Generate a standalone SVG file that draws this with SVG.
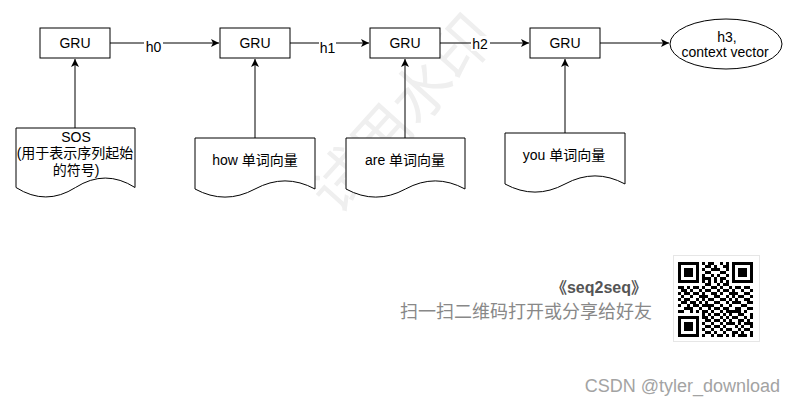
<svg xmlns="http://www.w3.org/2000/svg" width="796" height="405" viewBox="0 0 796 405">
<style>
text{font-family:"Liberation Sans","Noto Sans CJK SC",sans-serif;}
.t{font-size:14px;fill:#000;text-anchor:middle;}
.box{fill:#fff;stroke:#000;stroke-width:1;}
.ln{fill:none;stroke:#000;stroke-width:1;}
.lbl{fill:#fff;stroke:none;}
</style>
<defs>
<marker id="arr" markerUnits="userSpaceOnUse" markerWidth="10" markerHeight="10" refX="8" refY="4" orient="auto">
<path d="M0,0 L8,4 L0,8 L2,4 Z" fill="#000"/>
</marker>
</defs>
<rect width="796" height="405" fill="#fff"/>
<text x="402" y="135" transform="rotate(-48 402 114)" style="font-size:60px;fill:#efefef;text-anchor:middle;">试用水印</text>

<g id="connectors">
<path class="ln" d="M110,43 H219" marker-end="url(#arr)"/>
<path class="ln" d="M290,43 H369" marker-end="url(#arr)"/>
<path class="ln" d="M440,43 H529" marker-end="url(#arr)"/>
<path class="ln" d="M600,43 H669" marker-end="url(#arr)"/>
<path class="ln" d="M75,128 V59" marker-end="url(#arr)"/>
<path class="ln" d="M255,138 V59" marker-end="url(#arr)"/>
<path class="ln" d="M405,138 V59" marker-end="url(#arr)"/>
<path class="ln" d="M565,133 V59" marker-end="url(#arr)"/>
<rect class="lbl" x="144" y="38" width="19" height="16"/>
<text class="t" x="153.5" y="52">h0</text>
<rect class="lbl" x="319" y="40" width="17" height="15"/>
<text class="t" x="327.5" y="53">h1</text>
<rect class="lbl" x="471" y="36" width="19" height="15"/>
<text class="t" x="480" y="49">h2</text>
</g>

<g id="gru1"><rect class="box" x="40" y="28" width="70" height="30"/><text class="t" x="75" y="48">GRU</text></g>
<g id="gru2"><rect class="box" x="220" y="28" width="70" height="30"/><text class="t" x="255" y="48">GRU</text></g>
<g id="gru3"><rect class="box" x="370" y="28" width="70" height="30"/><text class="t" x="405" y="48">GRU</text></g>
<g id="gru4"><rect class="box" x="530" y="28" width="70" height="30"/><text class="t" x="565" y="48">GRU</text></g>

<g id="h3">
<ellipse class="box" cx="726" cy="44" rx="56" ry="25"/>
<text class="t" x="727" y="42">h3,</text>
<text class="t" x="725" y="57">context vector</text>
</g>

<g id="doc-sos">
<path class="box" d="M16,128 H135 V187.5 Q105.25,168.6 75.5,187.5 Q45.75,206.4 16,187.5 Z"/>
<text class="t" x="76" y="142">SOS</text>
<text class="t" x="75" y="158">(用于表示序列起始</text>
<text class="t" x="76" y="175">的符号)</text>
</g>
<g id="doc-how">
<path class="box" d="M195,138 H315 V189 Q285,172.8 255,189 Q225,205.2 195,189 Z"/>
<text class="t" x="255" y="165">how 单词向量</text>
</g>
<g id="doc-are">
<path class="box" d="M346,138 H465 V189 Q435.25,172.8 405.5,189 Q375.75,205.2 346,189 Z"/>
<text class="t" x="405" y="165">are 单词向量</text>
</g>
<g id="doc-you">
<path class="box" d="M505,133 H625 V184 Q595,167.8 565,184 Q535,200.2 505,184 Z"/>
<text class="t" x="564" y="160">you 单词向量</text>
</g>

<g id="share">
<text x="647" y="293" style="font-size:16px;font-weight:bold;fill:#555;text-anchor:end;">《seq2seq》</text>
<text x="652" y="318" style="font-size:18px;fill:#888;text-anchor:end;">扫一扫二维码打开或分享给好友</text>
<rect x="673.5" y="255.5" width="86" height="86" fill="#fff" stroke="#e6e6e6"/>
<g transform="translate(678,262) scale(3)">
<path fill="none" stroke="#000" stroke-width="1" shape-rendering="crispEdges" d="M0 .5h7M8 .5h1M10 .5h2M14 .5h1M16 .5h1M18 .5h7
M0 1.5h1M6 1.5h1M9 1.5h2M12 1.5h1M15 1.5h2M18 1.5h1M24 1.5h1
M0 2.5h1M2 2.5h3M6 2.5h1M8 2.5h1M11 2.5h3M16 2.5h1M18 2.5h1M20 2.5h3M24 2.5h1
M0 3.5h1M2 3.5h3M6 3.5h1M9 3.5h2M14 3.5h2M18 3.5h1M20 3.5h3M24 3.5h1
M0 4.5h1M2 4.5h3M6 4.5h1M8 4.5h1M11 4.5h1M13 4.5h1M16 4.5h1M18 4.5h1M20 4.5h3M24 4.5h1
M0 5.5h1M6 5.5h1M8 5.5h3M12 5.5h1M14 5.5h2M18 5.5h1M24 5.5h1
M0 6.5h7M8 6.5h1M10 6.5h1M12 6.5h1M14 6.5h1M16 6.5h1M18 6.5h7
M9 7.5h2M13 7.5h1M15 7.5h2
M0 8.5h2M3 8.5h1M5 8.5h2M8 8.5h1M11 8.5h2M14 8.5h1M17 8.5h1M19 8.5h2M22 8.5h2
M1 9.5h2M4 9.5h1M7 9.5h1M9 9.5h2M13 9.5h1M15 9.5h2M18 9.5h1M21 9.5h1M24 9.5h1
M0 10.5h1M2 10.5h2M5 10.5h2M8 10.5h1M11 10.5h2M14 10.5h1M17 10.5h3M22 10.5h2
M1 11.5h1M4 11.5h1M7 11.5h3M12 11.5h2M16 11.5h1M18 11.5h1M20 11.5h2M24 11.5h1
M0 12.5h1M2 12.5h2M6 12.5h1M8 12.5h1M10 12.5h2M14 12.5h2M17 12.5h1M19 12.5h1M22 12.5h2
M1 13.5h2M4 13.5h2M7 13.5h1M9 13.5h1M12 13.5h2M16 13.5h1M18 13.5h3M23 13.5h2
M0 14.5h1M3 14.5h1M5 14.5h2M8 14.5h4M14 14.5h1M17 14.5h1M21 14.5h2
M2 15.5h3M7 15.5h1M10 15.5h1M12 15.5h2M15 15.5h2M19 15.5h2M23 15.5h2
M0 16.5h2M4 16.5h1M6 16.5h1M8 16.5h2M11 16.5h1M14 16.5h1M16 16.5h5M22 16.5h1
M8 17.5h1M10 17.5h1M12 17.5h2M15 17.5h1M17 17.5h1M20 17.5h2M24 17.5h1
M0 18.5h7M8 18.5h2M11 18.5h1M14 18.5h1M16 18.5h1M18 18.5h2M22 18.5h1M24 18.5h1
M0 19.5h1M6 19.5h1M9 19.5h2M12 19.5h2M15 19.5h1M17 19.5h1M20 19.5h2M23 19.5h1
M0 20.5h1M2 20.5h3M6 20.5h1M8 20.5h1M11 20.5h1M14 20.5h1M16 20.5h3M20 20.5h1M22 20.5h3
M0 21.5h1M2 21.5h3M6 21.5h1M9 21.5h2M12 21.5h2M15 21.5h1M19 21.5h1M21 21.5h1M24 21.5h1
M0 22.5h1M2 22.5h3M6 22.5h1M8 22.5h1M11 22.5h1M14 22.5h1M16 22.5h2M20 22.5h1M22 22.5h2
M0 23.5h1M6 23.5h1M9 23.5h2M12 23.5h1M15 23.5h1M18 23.5h2M21 23.5h1M24 23.5h1
M0 24.5h7M8 24.5h1M11 24.5h1M13 24.5h2M16 24.5h1M18 24.5h1M20 24.5h3M24 24.5h1"/>
</g>
</g>

<text x="780" y="392" style="font-size:18px;fill:#a3a3a3;text-anchor:end;">CSDN @tyler_download</text>
</svg>
